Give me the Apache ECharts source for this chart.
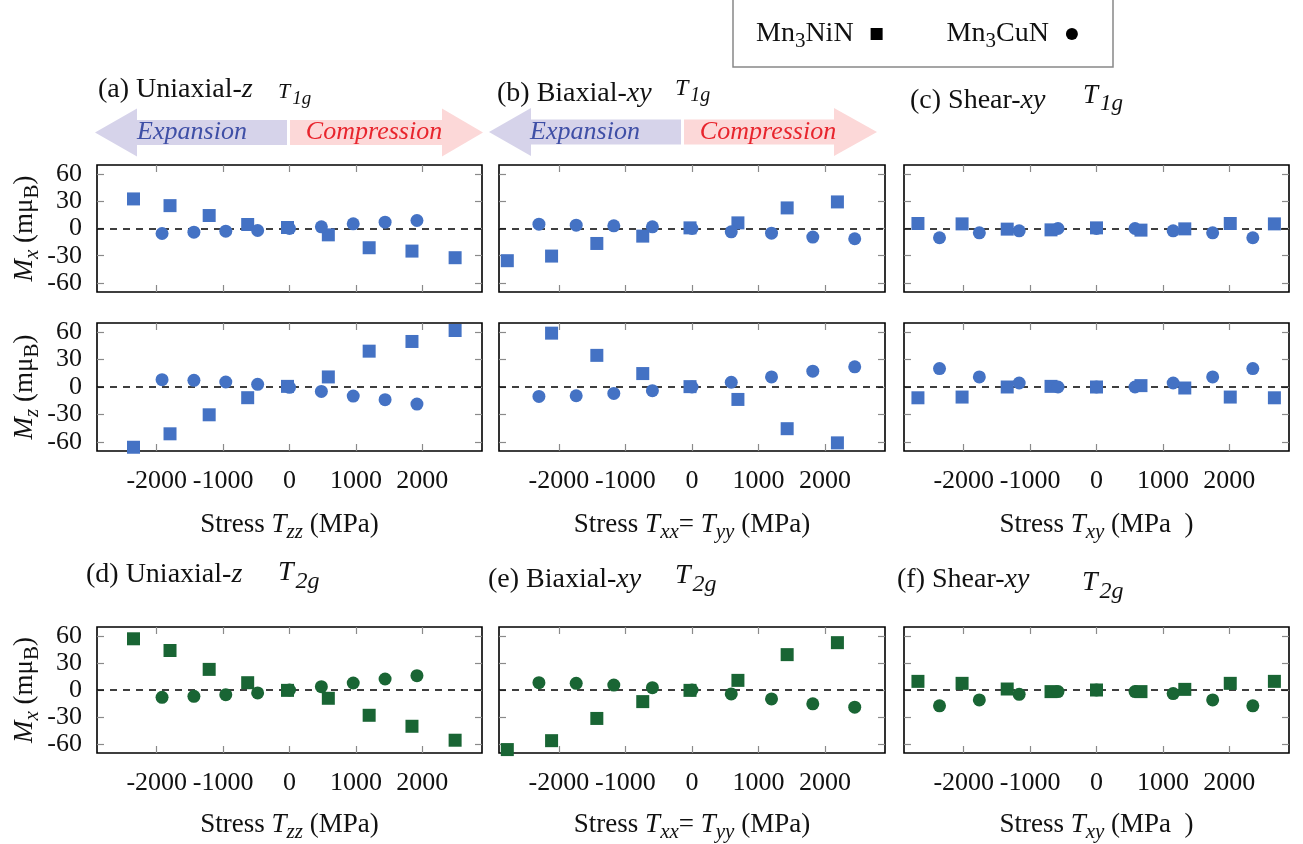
<!DOCTYPE html>
<html><head><meta charset="utf-8">
<script src="https://cdn.jsdelivr.net/npm/echarts@6/dist/echarts.min.js"></script>
<style>html,body{margin:0;padding:0;background:#fff}#c{width:1303px;height:844px}</style>
</head><body><div id="c"></div>
<script>
// ---- tick labels ----
const xTicks = [-2000, -1000, 0, 1000, 2000];
const yTicks = [-60, -30, 0, 30, 60];

// ---- stress values (MPa) ----
const niUniX = [-2350, -1800, -1210, -630, -30, 585, 1200, 1845, 2495];
const cuUniX = [-1920, -1440, -960, -480, 0, 480, 960, 1440, 1920];
const niBiX  = [-2775, -2110, -1430, -740, -30, 690, 1430, 2185];
const cuBiX  = [-2300, -1740, -1175, -595, 0, 590, 1195, 1815, 2445];
const niShX  = [-2690, -2025, -1345, -685, 0, 670, 1330, 2015, 2680];
const cuShX  = [-2365, -1765, -1165, -580, 0, 580, 1155, 1750, 2355];

// ---- T1g, M_x (muB*1e-3) ----
const niUniMx = [32.6, 25.2, 14.3, 4.4, 1.1, -7.0, -21.2, -24.9, -32.2];
const cuUniMx = [-5.5, -4.0, -2.9, -2.2, 0, 1.8, 5.1, 7.0, 8.8];
const niBiMx  = [-35.5, -30.4, -16.5, -8.4, 0.7, 6.2, 22.7, 29.3];
const cuBiMx  = [4.8, 3.7, 2.9, 1.8, 0, -3.7, -5.1, -9.5, -11.3];
const niShMx  = [5.5, 5.1, -0.7, -1.5, 0.7, -1.8, -0.4, 5.5, 5.1];
const cuShMx  = [-10.2, -4.8, -2.6, 0, 0, 0, -2.6, -4.8, -10.2];

// ---- T1g, M_z ----
const niUniMz = [-65.9, -51.2, -30.4, -11.7, 0.7, 11.0, 39.2, 49.8, 61.8];
const cuUniMz = [8.0, 7.3, 5.5, 2.9, -0.4, -4.8, -9.9, -13.9, -18.7];
const niBiMz  = [null, 58.9, 34.6, 14.7, 0.4, -13.6, -45.6, -61.1];
const cuBiMz  = [-10.3, -9.6, -7.0, -4.0, 0, 5.2, 11.0, 17.3, 22.1];
const niShMz  = [-11.8, -11.0, 0, 0.7, 0, 1.5, -1.1, -11.0, -11.8];
const cuShMz  = [20.2, 11.0, 4.4, 0, 0, 0, 4.4, 11.0, 20.2];

// ---- T2g, M_x ----
const niUniT2 = [56.9, 43.9, 22.9, 8.1, -0.4, -9.2, -28.1, -40.3, -55.8];
const cuUniT2 = [-8.1, -7.0, -5.2, -3.3, 0, 3.7, 7.8, 12.2, 15.9];
const niBiT2  = [-66.2, -56.3, -31.6, -12.9, -0.4, 10.7, 39.3, 52.6];
const cuBiT2  = [8.1, 7.4, 5.5, 2.6, 0, -4.4, -9.9, -15.4, -19.1];
const niShT2  = [9.6, 7.4, 1.1, -1.8, 0, -1.8, 0.7, 7.4, 9.6];
const cuShT2  = [-17.6, -11.0, -4.8, -1.8, 0, -1.8, -4.0, -11.0, -17.6];

const FONT = 'Liberation Serif';
const BLUE = '#4472c4';
const GREEN = '#196534';
const FS = 26;
const NFS = 27;
const TFS = 28;

const richBase = {
  i: { fontStyle: 'italic', fontFamily: FONT, fontSize: NFS, color: '#111' },
  isub: { fontStyle: 'italic', fontFamily: FONT, fontSize: 21, padding: [15, 0, 0, 0], color: '#111' },
  sub: { fontFamily: FONT, fontSize: 21, padding: [15, 0, 0, 0], color: '#111' }
};

const cols = [{ left: 97, width: 385 }, { left: 499, width: 386 }, { left: 904, width: 385 }];
const rows = [{ top: 165, height: 127 }, { top: 323, height: 128 }, { top: 627, height: 127 }];

const xNames = [
  'Stress {i|T}{isub|zz} (MPa)',
  'Stress {i|T}{isub|xx}= {i|T}{isub|yy} (MPa)',
  'Stress {i|T}{isub|xy} (MPa  )'
];
const yNames = ['{i|M}{isub|x} (mμ{sub|B})', '{i|M}{isub|z} (mμ{sub|B})', '{i|M}{isub|x} (mμ{sub|B})'];

const panels = [
  [niUniX, niUniMx, cuUniX, cuUniMx, BLUE], [niBiX, niBiMx, cuBiX, cuBiMx, BLUE], [niShX, niShMx, cuShX, cuShMx, BLUE],
  [niUniX, niUniMz, cuUniX, cuUniMz, BLUE], [niBiX, niBiMz, cuBiX, cuBiMz, BLUE], [niShX, niShMz, cuShX, cuShMz, BLUE],
  [niUniX, niUniT2, cuUniX, cuUniT2, GREEN], [niBiX, niBiT2, cuBiX, cuBiT2, GREEN], [niShX, niShT2, cuShX, cuShT2, GREEN]
];

const grid = [], xAxis = [], yAxis = [], series = [];
const zip = (xs, ys) => xs.map((x, k) => [x, ys[k]]);
const tickStyle = { show: true, inside: true, length: 7, lineStyle: { color: '#8a8a8a', width: 1.2 } };
const noLine = { show: false, onZero: false };

for (let r = 0; r < 3; r++) {
  for (let c = 0; c < 3; c++) {
    const g = r * 3 + c;
    grid.push({ left: cols[c].left, width: cols[c].width, top: rows[r].top, height: rows[r].height,
      show: true, borderColor: '#000', borderWidth: 1.6, backgroundColor: 'transparent' });
    const showX = r > 0, showY = c === 0;
    const xb = {
      type: 'value', gridIndex: g, min: -2900, max: 2900, position: 'bottom',
      axisLine: noLine, splitLine: { show: false },
      axisTick: Object.assign({ customValues: xTicks }, tickStyle),
      axisLabel: { show: showX, customValues: xTicks, formatter: v => String(v), margin: 17,
        fontFamily: FONT, fontSize: FS, color: '#111' }
    };
    if (showX) {
      Object.assign(xb, { name: xNames[c], nameLocation: 'middle', nameGap: r === 1 ? 56 : 54,
        nameTextStyle: { fontFamily: FONT, fontSize: NFS, color: '#111', rich: richBase } });
    }
    xAxis.push(xb);
    xAxis.push({
      type: 'value', gridIndex: g, min: -2900, max: 2900, position: 'top',
      axisLine: noLine, splitLine: { show: false },
      axisTick: Object.assign({ customValues: xTicks }, tickStyle), axisLabel: { show: false }
    });
    const yl = {
      type: 'value', gridIndex: g, min: -70, max: 70, position: 'left',
      axisLine: noLine, splitLine: { show: false },
      axisTick: Object.assign({ customValues: yTicks }, tickStyle),
      axisLabel: { show: showY, customValues: yTicks, formatter: v => String(v), margin: 15,
        fontFamily: FONT, fontSize: FS, color: '#111' }
    };
    if (showY) {
      Object.assign(yl, { name: yNames[r], nameLocation: 'middle', nameGap: 54, nameRotate: 90,
        nameTextStyle: { fontFamily: FONT, fontSize: NFS, color: '#111', rich: richBase } });
    }
    yAxis.push(yl);
    yAxis.push({
      type: 'value', gridIndex: g, min: -70, max: 70, position: 'right',
      axisLine: noLine, splitLine: { show: false },
      axisTick: Object.assign({ customValues: yTicks }, tickStyle), axisLabel: { show: false }
    });
    const p = panels[g];
    series.push({
      type: 'scatter', name: 'Mn3NiN', xAxisIndex: 2 * g, yAxisIndex: 2 * g, symbol: 'rect', symbolSize: 13,
      itemStyle: { color: p[4], opacity: 1 }, z: 3, silent: true,
      data: zip(p[0], p[1]).filter(d => d[1] !== null),
      markLine: { silent: true, symbol: 'none', z: 1, animation: false,
        label: { show: false }, lineStyle: { color: '#000', type: [7, 6], width: 1.6 },
        data: [{ yAxis: 0 }] }
    });
    series.push({
      type: 'scatter', name: 'Mn3CuN', xAxisIndex: 2 * g, yAxisIndex: 2 * g, symbol: 'circle', symbolSize: 13,
      itemStyle: { color: p[4], opacity: 1 }, z: 4, silent: true,
      data: zip(p[2], p[3])
    });
  }
}

function title(x, y, text, fs) {
  return { type: 'text', x: x, y: y, silent: true,
    style: { text: text, fontFamily: FONT, fontSize: fs || TFS, fill: '#111', verticalAlign: 'middle', align: 'left',
      rich: {
        i: { fontStyle: 'italic', fontFamily: FONT, fontSize: fs || TFS, fill: '#111' }
      } } };
}
function tsym(x, y, sub, fs) {
  const sf = Math.round(fs * 0.85);
  return { type: 'text', x: x, y: y, silent: true,
    style: { text: '{t|T}{s|' + sub + '}', fontFamily: FONT, fontSize: fs, fill: '#111', verticalAlign: 'middle', align: 'left',
      rich: {
        t: { fontStyle: 'italic', fontFamily: FONT, fontSize: fs, fill: '#111' },
        s: { fontStyle: 'italic', fontFamily: FONT, fontSize: sf, fill: '#111', padding: [Math.round(fs * 0.6), 0, 0, 2] }
      } } };
}
function arrowL(x0, x1, x2, yc) {
  return { type: 'polygon', silent: true, shape: { points: [[x0, yc], [x1, yc - 24], [x1, yc - 12.5], [x2, yc - 12.5], [x2, yc + 12.5], [x1, yc + 12.5], [x1, yc + 24]] },
    style: { fill: '#d6d3ea' } };
}
function arrowR(x0, x1, x2, yc) {
  return { type: 'polygon', silent: true, shape: { points: [[x0, yc - 12.5], [x1, yc - 12.5], [x1, yc - 24], [x2, yc], [x1, yc + 24], [x1, yc + 12.5], [x0, yc + 12.5]] },
    style: { fill: '#fcd8d8' } };
}
function ctext(x, y, text, color) {
  return { type: 'text', x: x, y: y, silent: true,
    style: { text: text, fontFamily: FONT, fontSize: FS, fontStyle: 'italic', fill: color, align: 'center', verticalAlign: 'middle' } };
}

const graphic = [
  { type: 'rect', silent: true, shape: { x: 733, y: -2, width: 380, height: 69 }, style: { fill: 'none', stroke: '#888', lineWidth: 1.5 } },
  arrowL(95, 137, 287, 132.5), arrowR(290, 442, 483, 132.5),
  arrowL(489, 531, 681, 132), arrowR(684, 834, 877, 132),
  ctext(192, 132, 'Expansion', '#3f4fa6'), ctext(374, 132, 'Compression', '#e8252d'),
  ctext(585, 132, 'Expansion', '#3f4fa6'), ctext(768, 132, 'Compression', '#e8252d'),
  title(98, 90, '(a) Uniaxial-{i|z}'), tsym(278, 92, '1g', 22),
  title(497, 94, '(b) Biaxial-{i|xy}'), tsym(675, 89, '1g', 24),
  title(910, 101, '(c) Shear-{i|xy}'), tsym(1083, 96, '1g', 27),
  title(86, 575, '(d) Uniaxial-{i|z}'), tsym(278, 573, '2g', 28),
  title(488, 580, '(e) Biaxial-{i|xy}'), tsym(675, 576, '2g', 28),
  title(897, 580, '(f) Shear-{i|xy}'), tsym(1082, 583, '2g', 28)
];

const chart = echarts.init(document.getElementById('c'));
chart.setOption({
  animation: false,
  backgroundColor: '#fff',
  grid, xAxis, yAxis, series, graphic,
  legend: {
    left: 751, top: 15, align: 'right', itemGap: 64, itemWidth: 12, itemHeight: 12, selectedMode: false,
    data: [
      { name: 'Mn3NiN', icon: 'rect', itemStyle: { color: '#000' } },
      { name: 'Mn3CuN', icon: 'circle', itemStyle: { color: '#000' } }
    ],
    formatter: n => n === 'Mn3NiN' ? 'Mn{sub|3}NiN' : 'Mn{sub|3}CuN',
    textStyle: { fontFamily: FONT, fontSize: 28, color: '#111', padding: [0, 12, 0, 0],
      rich: { sub: { fontFamily: FONT, fontSize: 21, padding: [15, 0, 0, 0], color: '#111' } } }
  }
});
</script>
</body></html>
